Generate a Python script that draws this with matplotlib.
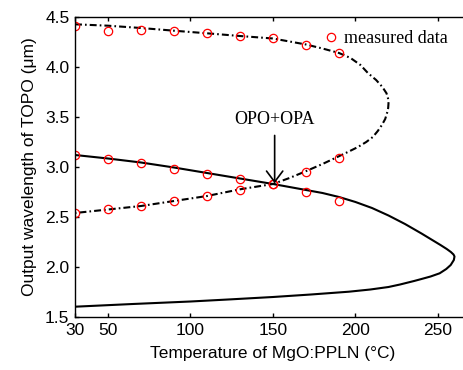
import numpy as np
import matplotlib
matplotlib.use("Agg")
import matplotlib.pyplot as plt

# measured tuning points (temperature in C, wavelength in um)
temp_meas = [30, 50, 70, 90, 110, 130, 150, 170, 190]
idler_meas = [4.41, 4.365, 4.37, 4.36, 4.34, 4.31, 4.29, 4.22, 4.14]
signal_meas = [2.54, 2.58, 2.61, 2.66, 2.71, 2.77, 2.83, 2.95, 3.09]
opa_meas = [3.12, 3.08, 3.04, 2.98, 2.93, 2.88, 2.83, 2.75, 2.66]

# theoretical OPO curve (dash-dot)
opo_wl = [4.427, 4.413, 4.39, 4.363, 4.337, 4.31, 4.285, 4.225, 4.185, 4.14,
          4.09, 4.02, 3.94, 3.87, 3.80, 3.737, 3.687, 3.637, 3.59, 3.55,
          3.48, 3.42, 3.36, 3.30, 3.25, 3.20, 3.155, 3.10, 3.03, 2.955,
          2.89, 2.83, 2.777, 2.71, 2.66, 2.61, 2.575, 2.54]
opo_T = [30, 50, 70, 90, 110, 130, 150, 170, 180, 190,
         197, 203, 207.5, 212.5, 216.3, 218.8, 219.7, 220, 219.8, 219.3,
         218, 216, 213.5, 210.5, 206.5, 201.5, 196, 189, 180, 169.5,
         160, 150, 130, 110, 90, 70, 50, 30]

# theoretical OPO+OPA curve (solid)
opa_wl = [3.12, 3.085, 3.045, 2.995, 2.94, 2.885, 2.83, 2.77, 2.74, 2.70,
          2.65, 2.59, 2.515, 2.43, 2.335, 2.27, 2.22, 2.18, 2.15, 2.125,
          2.105, 2.07, 2.02, 1.98, 1.937, 1.905, 1.88, 1.86, 1.825, 1.80,
          1.775, 1.753, 1.725, 1.70, 1.677, 1.655, 1.63, 1.603]
opa_T = [30, 50, 70, 90, 110, 130, 150, 170, 180, 190,
         200, 210, 220, 230, 240, 246.5, 251.5, 255.3, 257.8, 259.4,
         260, 259.6, 257.7, 255, 251, 245.5, 240, 235.5, 227, 220,
         209, 196, 173, 150, 125, 100, 65, 30]

plt.rcParams['lines.scale_dashes'] = False
sans = 'Liberation Sans'
serif = 'Liberation Serif'

fig = plt.figure(figsize=(4.64, 3.70), dpi=100)
ax = fig.add_axes([75 / 464, 53 / 370, 396 / 464, 300 / 370])

ax.plot(opo_T, opo_wl, color='black', lw=1.5, linestyle=(0, (5, 2.2, 1.2, 2.2)))
ax.plot(opa_T, opa_wl, color='black', lw=1.5)

for yv in [idler_meas, signal_meas, opa_meas]:
    ax.plot(temp_meas, yv, 'o', mfc='none', mec='red', ms=6, mew=0.9)

# legend entry only
ax.plot([], [], 'o', mfc='none', mec='red', ms=6, mew=0.9, label='measured data')
leg = ax.legend(loc='upper left', bbox_to_anchor=(0.61, 0.98), frameon=False,
                prop={'family': serif, 'size': 13}, handlelength=0.8,
                handletextpad=0.3, borderaxespad=0)

ax.annotate('OPO+OPA', xy=(151, 2.837), xytext=(151, 3.47), ha='center', va='center',
            fontsize=13, family=serif,
            arrowprops=dict(arrowstyle='->,head_length=0.6,head_width=0.45',
                            color='black', lw=1.2, shrinkA=3, shrinkB=0))

ax.set_xlim(30, 270)
ax.set_ylim(1.5, 4.5)
ax.set_xticks([30, 50, 100, 150, 200, 250])
ax.set_yticks([1.5, 2.0, 2.5, 3.0, 3.5, 4.0, 4.5])
ax.set_yticklabels(['1.5', '2.0', '2.5', '3.0', '3.5', '4.0', '4.5'])
ax.tick_params(direction='in', top=True, right=True, length=3, width=1,
               labelsize=12.5, pad=4)
for lab in ax.get_xticklabels() + ax.get_yticklabels():
    lab.set_family(sans)
for sp in ax.spines.values():
    sp.set_linewidth(1.0)

ax.set_xlabel('Temperature of MgO:PPLN (\u00b0C)', family=sans, fontsize=12.5, labelpad=6)
ax.set_ylabel('Output wavelength of TOPO (\u03bcm)', family=sans, fontsize=12.5, labelpad=6)

fig.savefig('out.png', dpi=100)
